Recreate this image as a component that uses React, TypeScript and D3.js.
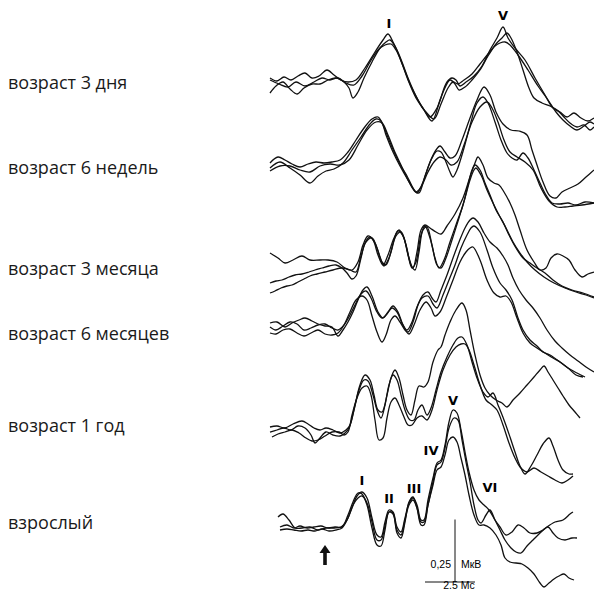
import React from 'react'
import * as d3 from 'd3'

// ABR traces: [time ms, amplitude µV], 3 recordings per age group
type Pt = [number, number]

const ageLabels = ['возраст 3 дня', 'возраст 6 недель', 'возраст 3 месяца', 'возраст 6 месяцев', 'возраст 1 год', 'взрослый']

const day3a: Pt[] = [[-2.75,0.036],[-2.4,0.024],[-2.05,0.04],[-1.7,0.028],[-1.35,0.044],[-1.0,0.056],[-0.65,0.036],[-0.3,0.044],[0.1,0.068],[0.45,0.048],[0.8,0.028],[1.15,0.02],[1.55,0.028],[2.0,0.076],[2.5,0.14],[2.9,0.188],[3.15,0.212],[3.4,0.18],[3.75,0.116],[4.15,0.028],[4.55,-0.044],[4.95,-0.092],[5.35,-0.136],[5.75,-0.052],[6.1,0.02],[6.35,0.036],[6.55,0.028],[6.75,0.004],[7.05,0.02],[7.45,0.044],[7.85,0.084],[8.25,0.148],[8.6,0.196],[8.9,0.24],[9.15,0.196],[9.5,0.156],[10.0,0.108],[10.5,0.036],[11.0,-0.032],[11.4,-0.084],[11.75,-0.1],[12.1,-0.12],[12.45,-0.104],[12.8,-0.124],[13.15,-0.136],[13.45,-0.124]]
const day3b: Pt[] = [[-2.75,-0.024],[-2.45,0.004],[-2.1,0.02],[-1.75,-0.008],[-1.4,-0.028],[-1.05,-0.004],[-0.65,0.012],[-0.25,0.012],[0.15,0.028],[0.55,0.036],[0.95,0.02],[1.2,-0.004],[1.4,-0.044],[1.65,-0.02],[1.95,0.036],[2.35,0.1],[2.75,0.156],[3.05,0.18],[3.25,0.188],[3.55,0.156],[3.85,0.1],[4.15,0.036],[4.55,-0.036],[4.95,-0.092],[5.25,-0.12],[5.6,-0.084],[5.95,-0.012],[6.25,0.028],[6.5,0.012],[6.7,-0.012],[7.0,0],[7.35,0.028],[7.75,0.068],[8.15,0.124],[8.55,0.172],[8.85,0.196],[9.1,0.216],[9.3,0.196],[9.6,0.14],[9.9,0.068],[10.2,-0.004],[10.45,-0.044],[10.85,-0.064],[11.25,-0.076],[11.6,-0.092],[11.9,-0.116],[12.25,-0.144],[12.6,-0.16],[12.95,-0.152],[13.25,-0.172],[13.45,-0.16]]
const day3c: Pt[] = [[-2.75,0.028],[-2.3,0.012],[-1.85,0],[-1.45,0.02],[-1.0,0.004],[-0.55,0.02],[-0.15,0.036],[0.25,0.028],[0.65,0.036],[1.05,0.016],[1.45,0.008],[1.85,0.044],[2.25,0.1],[2.65,0.148],[3.0,0.168],[3.3,0.172],[3.55,0.148],[3.9,0.084],[4.25,0.012],[4.65,-0.052],[5.05,-0.1],[5.45,-0.128],[5.8,-0.068],[6.15,-0.004],[6.4,0.02],[6.65,0.012],[6.95,0.028],[7.35,0.052],[7.75,0.092],[8.15,0.132],[8.5,0.164],[8.75,0.176],[9.0,0.18],[9.25,0.168],[9.65,0.128],[10.15,0.068],[10.65,0.004],[11.15,-0.052],[11.55,-0.1],[11.9,-0.132],[12.25,-0.156],[12.6,-0.172],[12.95,-0.156],[13.25,-0.14],[13.45,-0.148]]

const week6a: Pt[] = [[-2.75,0.02],[-2.35,0.044],[-2.0,0.032],[-1.65,0.016],[-1.25,0.004],[-0.85,0.016],[-0.45,0.024],[-0.05,0.02],[0.35,0.024],[0.75,0.032],[1.15,0.064],[1.55,0.112],[1.95,0.16],[2.35,0.196],[2.65,0.204],[2.9,0.172],[3.2,0.112],[3.5,0.056],[3.8,0.008],[4.1,-0.032],[4.35,-0.072],[4.6,-0.1],[4.9,-0.056],[5.25,0.024],[5.55,0.072],[5.75,0.088],[6.0,0.064],[6.25,0.04],[6.5,0.048],[6.85,0.112],[7.25,0.2],[7.6,0.272],[7.95,0.324],[8.25,0.292],[8.55,0.224],[8.9,0.176],[9.3,0.152],[9.7,0.148],[10.1,0.132],[10.35,0.072],[10.6,0.012],[10.9,-0.056],[11.25,-0.112],[11.55,-0.12],[11.85,-0.096],[12.25,-0.08],[12.65,-0.064],[13.05,-0.036],[13.45,-0.008]]
const week6b: Pt[] = [[-2.75,0],[-2.25,0.024],[-1.75,0],[-1.25,-0.028],[-0.75,-0.06],[-0.35,-0.032],[0.05,-0.012],[0.45,-0.004],[0.9,0.02],[1.35,0.072],[1.8,0.124],[2.25,0.176],[2.55,0.196],[2.8,0.188],[3.05,0.132],[3.4,0.064],[3.75,0.008],[4.15,-0.048],[4.5,-0.092],[4.7,-0.1],[5.0,-0.032],[5.35,0.04],[5.6,0.068],[5.8,0.064],[6.05,0.024],[6.25,-0.016],[6.4,-0.036],[6.6,-0.008],[6.95,0.08],[7.3,0.184],[7.6,0.26],[7.9,0.284],[8.15,0.26],[8.5,0.184],[8.8,0.112],[9.1,0.06],[9.35,0.04],[9.6,0.032],[9.9,0.06],[10.15,0.04],[10.45,-0.008],[10.75,-0.06],[11.05,-0.108],[11.35,-0.14],[11.75,-0.144],[12.15,-0.14],[12.55,-0.148],[13.0,-0.136],[13.45,-0.14]]
const week6c: Pt[] = [[-2.75,-0.012],[-2.25,0.008],[-1.75,0.008],[-1.25,-0.008],[-0.75,-0.016],[-0.25,0.008],[0.25,0.016],[0.75,0.012],[1.2,0.032],[1.65,0.092],[2.1,0.152],[2.55,0.184],[2.85,0.18],[3.15,0.132],[3.45,0.072],[3.8,0.012],[4.2,-0.056],[4.55,-0.096],[4.8,-0.076],[5.15,-0.016],[5.45,0.024],[5.75,0.044],[6.05,0.032],[6.3,0.012],[6.6,0.024],[6.95,0.092],[7.35,0.184],[7.75,0.244],[8.1,0.264],[8.35,0.24],[8.65,0.184],[8.95,0.112],[9.25,0.064],[9.6,0.044],[10.0,0.024],[10.4,-0.008],[10.8,-0.08],[11.2,-0.132],[11.6,-0.156],[12.0,-0.156],[12.4,-0.152],[12.85,-0.148],[13.45,-0.14]]

const month3a: Pt[] = [[-2.75,0.088],[-2.35,0.068],[-2.0,0.048],[-1.6,0.06],[-1.15,0.076],[-0.75,0.06],[-0.25,0.06],[0.15,0.06],[0.6,0.052],[1.0,0.028],[1.35,0.02],[1.65,0.052],[1.9,0.12],[2.15,0.156],[2.4,0.14],[2.65,0.08],[2.9,0.04],[3.15,0.08],[3.45,0.148],[3.7,0.18],[3.95,0.148],[4.2,0.068],[4.4,0.028],[4.6,0.092],[4.8,0.18],[5.0,0.2],[5.25,0.188],[5.55,0.172],[5.8,0.164],[6.1,0.196],[6.5,0.244],[6.9,0.308],[7.25,0.392],[7.5,0.448],[7.65,0.472],[7.9,0.44],[8.15,0.388],[8.45,0.368],[8.7,0.36],[8.95,0.332],[9.25,0.288],[9.5,0.24],[9.75,0.18],[10.1,0.1],[10.45,0.052],[10.75,0.02],[11.05,0.028],[11.3,0.068],[11.6,0.084],[11.9,0.076],[12.2,0.06],[12.5,0.02],[12.85,-0.008],[13.15,0.004],[13.45,0.012]]
const month3b: Pt[] = [[-2.75,-0.032],[-2.45,-0.024],[-2.15,-0.02],[-1.8,-0.008],[-1.5,0],[-1.15,0.004],[-0.8,0.012],[-0.5,0.02],[-0.15,0.028],[0.2,0.036],[0.55,0.04],[0.85,0.028],[1.1,0.008],[1.35,-0.016],[1.55,-0.004],[1.8,0.068],[2.0,0.128],[2.25,0.152],[2.5,0.128],[2.75,0.072],[2.95,0.036],[3.2,0.068],[3.45,0.14],[3.65,0.176],[3.9,0.156],[4.15,0.08],[4.35,0.028],[4.55,0.052],[4.8,0.16],[5.0,0.196],[5.25,0.148],[5.5,0.068],[5.7,0.028],[5.95,0.06],[6.25,0.132],[6.6,0.212],[6.9,0.28],[7.15,0.36],[7.35,0.42],[7.5,0.44],[7.75,0.42],[8.0,0.368],[8.25,0.32],[8.55,0.26],[8.9,0.212],[9.2,0.16],[9.55,0.108],[9.9,0.068],[10.25,0.048],[10.6,0.028],[11.0,0.008],[11.4,-0.02],[11.85,-0.044],[12.35,-0.06],[12.9,-0.072],[13.45,-0.088]]
const month3c: Pt[] = [[-2.75,-0.072],[-2.5,-0.064],[-2.2,-0.052],[-1.9,-0.044],[-1.65,-0.04],[-1.35,-0.028],[-1.05,-0.016],[-0.75,-0.004],[-0.4,0.004],[0,0.012],[0.4,0.02],[0.85,0.028],[1.25,0.02],[1.55,0.012],[1.8,0.076],[2.05,0.132],[2.35,0.148],[2.6,0.108],[2.85,0.052],[3.05,0.04],[3.3,0.092],[3.55,0.156],[3.8,0.172],[4.05,0.12],[4.3,0.04],[4.5,0.02],[4.7,0.092],[4.9,0.18],[5.1,0.192],[5.35,0.12],[5.6,0.04],[5.8,0.028],[6.05,0.068],[6.35,0.14],[6.7,0.228],[7.0,0.308],[7.25,0.38],[7.45,0.42],[7.55,0.428],[7.8,0.4],[8.1,0.34],[8.4,0.288],[8.7,0.24],[9.05,0.188],[9.4,0.132],[9.75,0.088],[10.1,0.052],[10.5,0.02],[10.95,-0.008],[11.45,-0.032],[12.0,-0.052],[12.55,-0.068],[13.05,-0.08],[13.45,-0.092]]

const month6a: Pt[] = [[-2.75,0.008],[-2.4,0.012],[-2.0,-0.008],[-1.65,0.008],[-1.3,0.02],[-1.0,0.028],[-0.65,0.016],[-0.35,0.004],[0,-0.004],[0.35,-0.008],[0.65,-0.044],[0.9,-0.02],[1.15,0.012],[1.4,0.052],[1.65,0.1],[1.9,0.14],[2.1,0.152],[2.35,0.116],[2.65,0.052],[2.9,0.028],[3.15,0.052],[3.4,0.076],[3.65,0.052],[3.9,0],[4.15,-0.028],[4.4,0.012],[4.65,0.08],[4.9,0.12],[5.15,0.132],[5.35,0.108],[5.55,0.092],[5.8,0.14],[6.1,0.2],[6.4,0.268],[6.7,0.332],[7.0,0.388],[7.25,0.42],[7.4,0.428],[7.65,0.412],[7.95,0.368],[8.25,0.332],[8.6,0.308],[8.9,0.276],[9.15,0.24],[9.4,0.188],[9.7,0.14],[10.05,0.1],[10.4,0.068],[10.75,0.028],[11.1,-0.02],[11.5,-0.064],[11.85,-0.092],[12.25,-0.12],[12.65,-0.144],[13.05,-0.168],[13.45,-0.188]]
const month6b: Pt[] = [[-2.75,-0.008],[-2.45,-0.02],[-2.1,-0.004],[-1.75,0.012],[-1.4,0.004],[-1.05,-0.02],[-0.7,-0.012],[-0.35,0],[0,0.004],[0.35,-0.012],[0.65,-0.02],[0.95,0],[1.25,0.04],[1.55,0.088],[1.8,0.124],[2.05,0.136],[2.3,0.108],[2.6,0.052],[2.85,0.028],[3.1,0.044],[3.35,0.068],[3.6,0.052],[3.85,0.008],[4.1,-0.02],[4.35,0.012],[4.6,0.072],[4.85,0.108],[5.15,0.116],[5.4,0.084],[5.6,0.068],[5.9,0.12],[6.2,0.18],[6.5,0.24],[6.8,0.308],[7.1,0.36],[7.3,0.388],[7.45,0.396],[7.75,0.372],[8.1,0.3],[8.4,0.228],[8.75,0.168],[9.05,0.14],[9.35,0.1],[9.65,0.028],[9.9,-0.02],[10.25,-0.06],[10.6,-0.084],[10.9,-0.108],[11.25,-0.12],[11.75,-0.148],[12.15,-0.172],[12.6,-0.192],[13.0,-0.208]]
const month6c: Pt[] = [[-2.75,-0.032],[-2.45,-0.036],[-2.1,-0.02],[-1.75,-0.016],[-1.4,-0.032],[-1.05,-0.044],[-0.7,-0.032],[-0.35,-0.02],[0,-0.036],[0.35,-0.04],[0.65,-0.032],[0.95,0],[1.25,0.052],[1.55,0.1],[1.85,0.116],[2.1,0.1],[2.35,0.036],[2.6,-0.028],[2.85,-0.068],[3.05,-0.04],[3.3,0.02],[3.5,0.036],[3.75,0.012],[4.0,-0.02],[4.2,-0.036],[4.45,0],[4.75,0.06],[5.05,0.092],[5.3,0.068],[5.5,0.036],[5.75,0.052],[6.05,0.108],[6.4,0.18],[6.75,0.252],[7.05,0.292],[7.25,0.308],[7.4,0.312],[7.75,0.26],[8.1,0.18],[8.45,0.128],[8.75,0.112],[9.05,0.116],[9.3,0.092],[9.6,0.028],[9.9,-0.032],[10.25,-0.072],[10.6,-0.092],[11.0,-0.112],[11.4,-0.132],[11.75,-0.148],[12.15,-0.172],[12.55,-0.2],[12.9,-0.208]]

const year1a: Pt[] = [[-2.75,0.012],[-2.4,0.016],[-2.0,0.008],[-1.6,0.024],[-1.15,0.036],[-0.85,0.024],[-0.55,0.008],[-0.25,0],[0.05,0.008],[0.4,0],[0.75,-0.012],[1.05,0],[1.25,0.02],[1.5,0.1],[1.75,0.18],[2.0,0.22],[2.25,0.2],[2.45,0.14],[2.65,0.08],[2.85,0.072],[3.1,0.14],[3.3,0.208],[3.5,0.24],[3.7,0.208],[3.9,0.14],[4.1,0.08],[4.3,0.06],[4.5,0.12],[4.7,0.176],[4.95,0.172],[5.15,0.192],[5.4,0.272],[5.65,0.32],[5.8,0.332],[6.0,0.38],[6.25,0.432],[6.55,0.48],[6.85,0.508],[7.05,0.48],[7.25,0.4],[7.5,0.3],[7.75,0.22],[8.0,0.168],[8.25,0.14],[8.55,0.12],[8.85,0.108],[9.1,0.092],[9.4,0.12],[9.75,0.148],[10.1,0.18],[10.45,0.212],[10.75,0.24],[10.95,0.256],[11.15,0.232],[11.4,0.2],[11.65,0.168],[11.9,0.136],[12.2,0.1],[12.5,0.072],[12.75,0.048]]
const year1b: Pt[] = [[-2.75,-0.008],[-2.4,0],[-2.05,0.008],[-1.7,0],[-1.35,0.016],[-1.0,0.008],[-0.7,-0.02],[-0.5,-0.052],[-0.25,-0.032],[0.05,-0.008],[0.4,-0.02],[0.75,-0.024],[1.0,-0.012],[1.2,0.008],[1.45,0.08],[1.7,0.16],[1.95,0.2],[2.15,0.196],[2.4,0.14],[2.6,0.08],[2.8,0.048],[3.0,0.1],[3.2,0.18],[3.4,0.22],[3.6,0.2],[3.8,0.14],[4.0,0.08],[4.25,0.04],[4.45,0.04],[4.65,0.08],[4.85,0.1],[5.1,0.06],[5.3,0.088],[5.55,0.16],[5.8,0.232],[6.1,0.292],[6.4,0.34],[6.65,0.368],[6.85,0.372],[7.1,0.34],[7.35,0.272],[7.6,0.208],[7.9,0.152],[8.15,0.132],[8.4,0.148],[8.65,0.1],[8.95,0.04],[9.25,-0.028],[9.5,-0.088],[9.75,-0.144],[10.0,-0.176],[10.3,-0.144],[10.6,-0.1],[10.9,-0.056],[11.2,-0.032],[11.4,-0.064],[11.65,-0.12],[11.9,-0.16],[12.2,-0.176],[12.4,-0.176]]
const year1c: Pt[] = [[-2.65,-0.028],[-2.35,-0.016],[-2.0,-0.008],[-1.65,0],[-1.3,-0.012],[-0.95,-0.032],[-0.65,-0.044],[-0.35,-0.04],[0,-0.024],[0.35,-0.008],[0.7,-0.008],[0.95,-0.02],[1.15,-0.008],[1.35,0.06],[1.6,0.128],[1.85,0.168],[2.1,0.176],[2.3,0.14],[2.5,0.04],[2.7,-0.04],[2.9,-0.032],[3.1,0.048],[3.3,0.112],[3.5,0.128],[3.7,0.1],[3.95,0.052],[4.15,0.02],[4.35,0.02],[4.6,0.048],[4.85,0.056],[5.1,0.04],[5.35,0.08],[5.6,0.16],[5.9,0.24],[6.25,0.3],[6.55,0.332],[6.8,0.344],[7.0,0.344],[7.2,0.32],[7.45,0.26],[7.75,0.18],[8.05,0.12],[8.35,0.1],[8.6,0.08],[8.9,0.02],[9.2,-0.052],[9.5,-0.112],[9.75,-0.148],[10.1,-0.168],[10.45,-0.152],[10.8,-0.168],[11.15,-0.184],[11.5,-0.2],[11.85,-0.212],[12.15,-0.2],[12.4,-0.184]]

const adultA: Pt[] = [[-2.35,0.044],[-2.1,0.056],[-1.8,0.032],[-1.5,0],[-1.15,0],[-0.75,0.004],[-0.35,-0.008],[0.05,0],[0.45,0],[0.8,0.004],[1.1,0.032],[1.35,0.08],[1.6,0.128],[1.85,0.144],[2.1,0.12],[2.35,0.04],[2.6,-0.028],[2.8,-0.036],[3.0,0.024],[3.2,0.072],[3.4,0.064],[3.6,0.004],[3.8,-0.016],[4.0,0.04],[4.2,0.1],[4.4,0.12],[4.6,0.092],[4.8,0.032],[4.95,0.032],[5.15,0.112],[5.4,0.2],[5.6,0.26],[5.8,0.272],[6.0,0.332],[6.2,0.424],[6.4,0.472],[6.6,0.46],[6.8,0.392],[7.0,0.304],[7.2,0.224],[7.45,0.152],[7.7,0.112],[7.95,0.092],[8.2,0.072],[8.5,0.032],[8.75,0.004],[9.05,-0.028],[9.35,-0.016],[9.65,0.012],[9.95,0],[10.25,-0.02],[10.6,-0.02],[10.9,-0.008],[11.15,0.004],[11.4,-0.02],[11.65,-0.04],[12.0,-0.048],[12.35,-0.04],[12.6,-0.04]]
const adultB: Pt[] = [[-2.25,0.004],[-1.9,0.012],[-1.55,0],[-1.25,0.008],[-0.9,0],[-0.55,0.004],[-0.2,0.008],[0.15,0],[0.5,0.004],[0.85,0.004],[1.15,0.052],[1.4,0.104],[1.65,0.14],[1.85,0.136],[2.1,0.092],[2.35,0],[2.6,-0.068],[2.8,-0.072],[3.0,-0.008],[3.2,0.064],[3.4,0.06],[3.6,-0.02],[3.8,-0.04],[4.0,0.024],[4.2,0.104],[4.4,0.124],[4.6,0.08],[4.8,0.012],[4.95,0.012],[5.15,0.092],[5.4,0.184],[5.6,0.252],[5.8,0.264],[6.0,0.32],[6.2,0.4],[6.45,0.44],[6.65,0.432],[6.85,0.352],[7.05,0.264],[7.25,0.184],[7.45,0.092],[7.65,0.032],[7.8,0.02],[8.05,0.052],[8.25,0.072],[8.5,0.032],[8.75,-0.008],[9.0,-0.048],[9.3,-0.08],[9.55,-0.096],[9.8,-0.1],[10.1,-0.072],[10.4,-0.048],[10.75,-0.02],[11.1,0.004],[11.5,0.024],[11.9,0.032],[12.25,0.056],[12.4,0.064]]
const adultC: Pt[] = [[-2.25,-0.008],[-1.9,-0.004],[-1.55,-0.008],[-1.2,-0.012],[-0.85,-0.008],[-0.5,-0.012],[-0.15,-0.004],[0.2,-0.012],[0.55,-0.008],[0.85,0],[1.15,0.04],[1.4,0.092],[1.65,0.12],[1.85,0.128],[2.1,0.1],[2.35,0.024],[2.6,-0.048],[2.8,-0.048],[3.0,0.008],[3.2,0.064],[3.4,0.056],[3.6,-0.008],[3.8,-0.028],[4.0,0.032],[4.2,0.092],[4.4,0.112],[4.6,0.08],[4.8,0.024],[4.95,0.024],[5.15,0.092],[5.4,0.172],[5.6,0.232],[5.8,0.244],[6.0,0.292],[6.2,0.352],[6.4,0.364],[6.6,0.344],[6.8,0.28],[7.0,0.212],[7.2,0.132],[7.45,0.052],[7.7,0.012],[7.95,0.012],[8.25,0],[8.55,-0.028],[8.8,-0.068],[9.0,-0.12],[9.25,-0.136],[9.55,-0.14],[9.85,-0.144],[10.15,-0.16],[10.45,-0.184],[10.75,-0.22],[10.95,-0.236],[11.2,-0.22],[11.45,-0.204],[11.7,-0.192],[11.95,-0.184],[12.2,-0.2],[12.45,-0.208]]

// wave labels
const day3Peaks = ['I', 'V']
const day3PeakMs = [3.2, 8.9]
const day3PeakUv = [0.236, 0.268]
const adultPeaks = ['I', 'II', 'III', 'IV', 'V', 'VI']
const adultPeakMs = [1.85, 3.2, 4.45, 5.3, 6.4, 8.25]
const adultPeakUv = [0.172, 0.1, 0.14, 0.292, 0.492, 0.144]

const groups = [
  [day3a, day3b, day3c],
  [week6a, week6b, week6c],
  [month3a, month3b, month3c],
  [month6a, month6b, month6c],
  [year1a, year1b, year1c],
  [adultA, adultB, adultC],
]

const W = 594, H = 590
const rowBase = [87, 168, 275, 325, 430, 528]
const labelY = [89, 174, 275, 340, 432, 529]

export default function App() {
  const x = d3.scaleLinear().domain([-2.75, 13.45]).range([270, 594])
  const yFor = (i: number) => d3.scaleLinear().domain([0, 0.25]).range([rowBase[i], rowBase[i] - 62.5])
  const yTop = yFor(0)
  const yAd = yFor(5)

  // stimulus arrow under adult trace at t = 0
  const ax = x(0), tipY = yAd(-0.068), tailY = yAd(-0.148)
  const arrow = `M${ax - 1.8},${tailY} L${ax - 1.8},${tipY + 8} L${ax - 5.5},${tipY + 8} L${ax},${tipY} L${ax + 5.5},${tipY + 8} L${ax + 1.8},${tipY + 8} L${ax + 1.8},${tailY} Z`

  // calibration bar
  const barX = x(6.5), barY0 = yAd(-0.216), barY1 = yAd(0.034)

  return (
    <svg width={W} height={H} style={{ position: 'absolute', left: 0, top: 0, background: '#fff' }}>
      {ageLabels.map((t, i) => (
        <text key={t} x={8} y={labelY[i]} fontFamily="Open Sans, sans-serif" fontSize={18} fill="#1a1a1a">{t}</text>
      ))}
      {groups.map((traces, i) => {
        const y = yFor(i)
        const line = d3.line<Pt>().x(d => x(d[0])).y(d => y(d[1])).curve(d3.curveCatmullRom.alpha(0.5))
        return (
          <g key={i}>
            {traces.map((tr, j) => (
              <path key={j} d={line(tr) || ''} fill="none" stroke="#111" strokeWidth={1.3} strokeLinejoin="round" />
            ))}
          </g>
        )
      })}
      {day3Peaks.map((p, i) => (
        <text key={'d' + i} x={x(day3PeakMs[i])} y={yTop(day3PeakUv[i])} textAnchor="middle" fontFamily="DejaVu Sans, sans-serif" fontWeight="bold" fontSize={13}>{p}</text>
      ))}
      {adultPeaks.map((p, i) => (
        <text key={'a' + i} x={x(adultPeakMs[i])} y={yAd(adultPeakUv[i])} textAnchor="middle" fontFamily="DejaVu Sans, sans-serif" fontWeight="bold" fontSize={13}>{p}</text>
      ))}
      <path d={arrow} fill="#111" />
      <line x1={barX} x2={barX} y1={barY0} y2={barY1} stroke="#111" strokeWidth={1} />
      <line x1={x(5.0)} x2={x(7.5)} y1={barY0} y2={barY0} stroke="#111" strokeWidth={1} />
      <text x={barX - 4} y={yAd(-0.16)} textAnchor="end" fontFamily="Liberation Sans, Arial, sans-serif" fontSize={10.5}>0,25</text>
      <text x={barX + 6} y={yAd(-0.16)} fontFamily="Liberation Sans, Arial, sans-serif" fontSize={10.5}>МкВ</text>
      <text x={x(6.7)} y={yAd(-0.244)} textAnchor="middle" fontFamily="Liberation Sans, Arial, sans-serif" fontSize={10.5}>2.5 Мс</text>
    </svg>
  )
}
